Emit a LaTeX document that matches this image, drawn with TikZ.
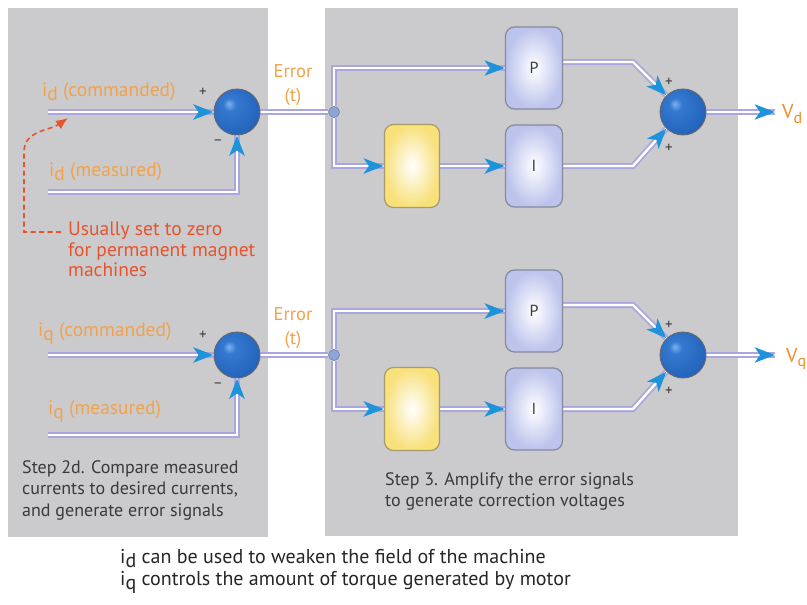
\documentclass[tikz,border=0pt]{standalone}
\usepackage{fontspec}
\setmainfont{PT Sans}
\usetikzlibrary{arrows.meta,calc,decorations.markings}
\definecolor{panel}{HTML}{CBCBCD}
\definecolor{lav}{HTML}{A9A7DE}
\definecolor{ablue}{HTML}{1E93DA}
\definecolor{orng}{HTML}{F2A24A}
\definecolor{vorng}{HTML}{F08C2C}
\definecolor{redt}{HTML}{E8532B}
\definecolor{txt}{HTML}{3A3A3A}
\definecolor{boxlav}{HTML}{BCC3EC}
\definecolor{boxedge}{HTML}{858A9C}
\definecolor{yel}{HTML}{F8E07A}
\definecolor{yeledge}{HTML}{A89A6A}
\definecolor{dotc}{HTML}{8EA6D6}
\definecolor{dotedge}{HTML}{6F80AE}
\definecolor{sha}{HTML}{7FB2EE}
\definecolor{shb}{HTML}{3479D0}
\definecolor{shc}{HTML}{1F5EB6}
\definecolor{shd}{HTML}{4D8AD8}
\pgfdeclareradialshading{sumshade}{\pgfpoint{-9bp}{9bp}}{color(0bp)=(sha); color(7bp)=(shb); color(36bp)=(shc); color(50bp)=(shd); color(70bp)=(shd)}
\newcommand{\mysub}[1]{\raisebox{-0.45ex}{#1}}
\pgfdeclarelayer{bg}
\pgfdeclarelayer{lines}
\pgfsetlayers{bg,lines,main}
\begin{document}
\begin{tikzpicture}[x=1pt,y=-1pt,
  sig/.style={draw=lav,line width=1.8pt,double=white,double distance=2.4pt},
  sigarr/.style={sig,postaction={decorate},
    decoration={markings,mark=at position 1 with {\arrow[ablue]{Stealth[length=20pt,width=15pt,inset=5pt]}}}},
  sumball/.style={circle,minimum size=46pt,inner sep=0pt,draw=black!60,line width=0.9pt,shading=sumshade},
  gainbox/.style={rectangle,rounded corners=9pt,minimum width=57pt,minimum height=82pt,draw=boxedge,line width=1.2pt,inner color=white,outer color=boxlav,font=\fontsize{16}{18}\selectfont,text=txt},
  yelbox/.style={rectangle,rounded corners=9pt,minimum width=55pt,minimum height=83pt,draw=yeledge,line width=1.2pt,inner color=white,outer color=yel},
  splitdot/.style={circle,minimum size=11pt,inner sep=0pt,fill=dotc,draw=dotedge,line width=0.6pt},
  sign/.style={font=\fontsize{15}{15}\selectfont,text=txt,inner sep=0pt},
  inlabel/.style={font=\fontsize{19.5}{20}\selectfont,text=orng,anchor=base west,inner sep=0pt},
  errlabel/.style={font=\fontsize{18.5}{24}\selectfont,text=orng,align=center,inner sep=0pt},
  outlabel/.style={font=\fontsize{20}{20}\selectfont,text=vorng,anchor=west,inner sep=0pt},
  steptext/.style={font=\fontsize{18}{21.5}\selectfont,text=txt,align=left,anchor=north west,inner sep=0pt},
  panelbox/.style={fill=panel,draw=none}
]
\useasboundingbox (0,0) rectangle (807,605);
\begin{pgfonlayer}{bg}
  \fill[white] (0,0) rectangle (807,605);
  \path[panelbox] (8,8) rectangle (268,537);
  \path[panelbox] (325,8) rectangle (738,536);
\end{pgfonlayer}

\foreach \r/\dy in {d/0,q/243}{
  \node[sumball] (s1\r) at (237,{112+\dy}) {};
  \coordinate (cmd\r) at (48,{112+\dy});
  \coordinate (meas\r) at (48,{192+\dy});
  \node[splitdot] (sp\r) at (334,{112+\dy}) {};
  \node[gainbox] (P\r) at (534,{68+\dy}) {P};
  \node[yelbox] (Y\r) at (412,{166+\dy}) {};
  \node[gainbox] (I\r) at (534,{166+\dy}) {I};
  \node[sumball] (s2\r) at (683,{112+\dy}) {};
  \coordinate (bp\r) at (633,{62+\dy});
  \coordinate (bi\r) at (633,{166+\dy});
  \coordinate (out\r) at (775,{112+\dy});
  \node[sign] at (203,{92+\dy}) {+};
  \node[sign] at (218,{143+\dy}) {\textminus};
  \node[sign] at (669,{82+\dy}) {+};
  \node[sign] at (669,{148+\dy}) {+};
  \node[errlabel] at (293,{85+\dy}) {Error\\(t)};
  \begin{pgfonlayer}{lines}
    \draw[sigarr] (cmd\r) -- (s1\r);
    \draw[sigarr] (meas\r) -| (s1\r);
    \draw[sig] (s1\r) -- (sp\r);
    \draw[sigarr] (sp\r) |- (P\r);
    \draw[sigarr] (sp\r) |- (Y\r);
    \draw[sigarr] (Y\r) -- (I\r);
    \draw[sigarr] (P\r.east |- bp\r) -- (bp\r) -- (s2\r.135);
    \draw[sigarr] (I\r) -- (bi\r) -- (s2\r.225);
    \draw[sigarr] (s2\r) -- (out\r);
  \end{pgfonlayer}
}

\node[inlabel] (lcd) at (42,96) {i\mysub{d} (commanded)};
\node[inlabel] (lmd) at (49,176) {i\mysub{d} (measured)};
\node[inlabel] (lcq) at (38,336) {i\mysub{q} (commanded)};
\node[inlabel] (lmq) at (48,414) {i\mysub{q} (measured)};
\node[outlabel] (vd) at (782,114) {V\mysub{\fontsize{16}{16}\selectfont d}};
\node[outlabel] (vq) at (786,359) {V\mysub{\fontsize{16}{16}\selectfont q}};

\node[font=\fontsize{19.5}{20.5}\selectfont,text=redt,align=left,anchor=north west,inner sep=0pt] (note) at (68,222) {Usually set to zero\\for permanent magnet\\machines};
\coordinate (ntip) at (68,118);
\coordinate (nstart) at (61,232);
\draw[redt,line width=1.6pt,dash pattern=on 5pt off 3.5pt,-{Latex[length=12pt,width=10pt]}]
  (nstart) -- (24,232) -- (24,152) to[out=90,in=215] (ntip);

\node[steptext] (s2d) at (22,460) {Step 2d. Compare measured\\currents to desired currents,\\and generate error signals};
\node[steptext] (s3) at (385,472) {Step 3. Amplify the error signals\\to generate correction voltages};
\node[font=\fontsize{20}{22}\selectfont,text=black!85,align=left,anchor=north west,inner sep=0pt] (foot) at (120,549)
  {i\mysub{d} can be used to weaken the field of the machine\\i\mysub{q} controls the amount of torque generated by motor};
\end{tikzpicture}
\end{document}
